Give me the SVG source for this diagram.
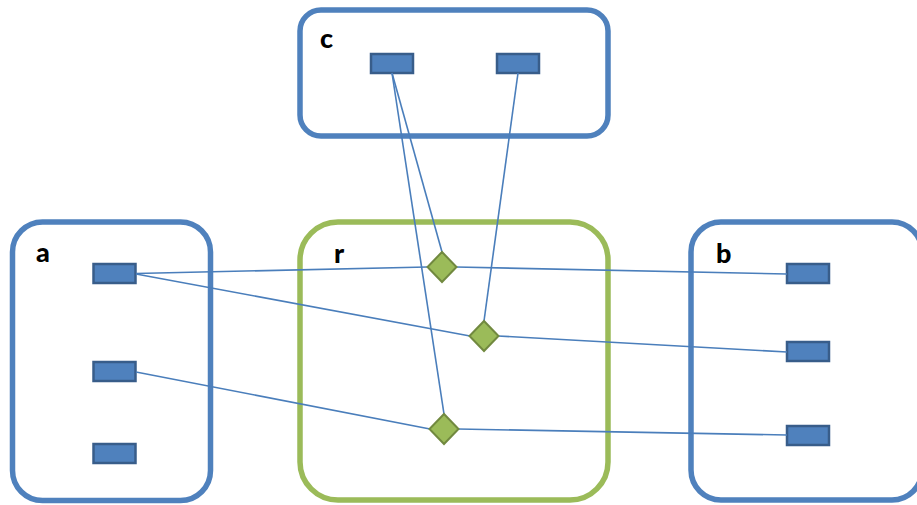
<svg xmlns="http://www.w3.org/2000/svg" width="917" height="505" viewBox="0 0 917 505">
<style>
.box{fill:#ffffff;stroke:#4f81bd;stroke-width:5.5}
.rbox{fill:#ffffff;stroke:#9bbb59;stroke-width:5.5}
.port{fill:#4f81bd;stroke:#385d8a;stroke-width:2.5}
.dia{fill:#9bbb59;stroke:#71893f;stroke-width:2}
.lbl{font-family:Lato,"Open Sans","Liberation Sans",sans-serif;font-weight:900;font-size:27px;fill:#000000}
.conn{fill:none;stroke:#4a7ebb;stroke-width:1.6}
</style>
<rect width="917" height="505" fill="#ffffff"/>
<g id="c">
<rect class="box" x="300" y="10" width="308" height="126" rx="21" ry="21"/>
<text class="lbl" x="320" y="48">c</text>
<rect class="port" x="371" y="54" width="42" height="19"/>
<rect class="port" x="497" y="54" width="42" height="19"/>
</g>
<g id="a">
<rect class="box" x="12.5" y="222" width="198" height="278.5" rx="30" ry="30"/>
<text class="lbl" x="36" y="262">a</text>
<rect class="port" x="93.5" y="264" width="42" height="19"/>
<rect class="port" x="93.5" y="362" width="42" height="19"/>
<rect class="port" x="93.5" y="444" width="42" height="19"/>
</g>
<g id="r">
<rect class="rbox" x="300" y="222" width="308" height="278" rx="38" ry="38"/>
<text class="lbl" x="334" y="263">r</text>
</g>
<g id="b">
<rect class="box" x="691" y="222" width="231" height="278" rx="30" ry="30"/>
<text class="lbl" x="716" y="263">b</text>
<rect class="port" x="787" y="264" width="42" height="19"/>
<rect class="port" x="787" y="342" width="42" height="19"/>
<rect class="port" x="787" y="426" width="42" height="19"/>
</g>
<g id="connectors">
<line class="conn" x1="136" y1="273.5" x2="427" y2="267"/>
<line class="conn" x1="456" y1="267" x2="787" y2="274"/>
<line class="conn" x1="136" y1="274" x2="470" y2="336"/>
<line class="conn" x1="498" y1="336" x2="787" y2="352"/>
<line class="conn" x1="136" y1="372" x2="430" y2="429"/>
<line class="conn" x1="458" y1="429" x2="787" y2="435"/>
<line class="conn" x1="392" y1="73" x2="442" y2="252"/>
<line class="conn" x1="392" y1="73" x2="444" y2="414"/>
<line class="conn" x1="518" y1="73" x2="484" y2="321"/>
</g>
<g id="d1"><polygon class="dia" points="442,252 456.5,267 442,282 427.5,267"/></g>
<g id="d2"><polygon class="dia" points="484,321 498.5,336 484,351 469.5,336"/></g>
<g id="d3"><polygon class="dia" points="444,414 458.5,429 444,444 429.5,429"/></g>
</svg>
